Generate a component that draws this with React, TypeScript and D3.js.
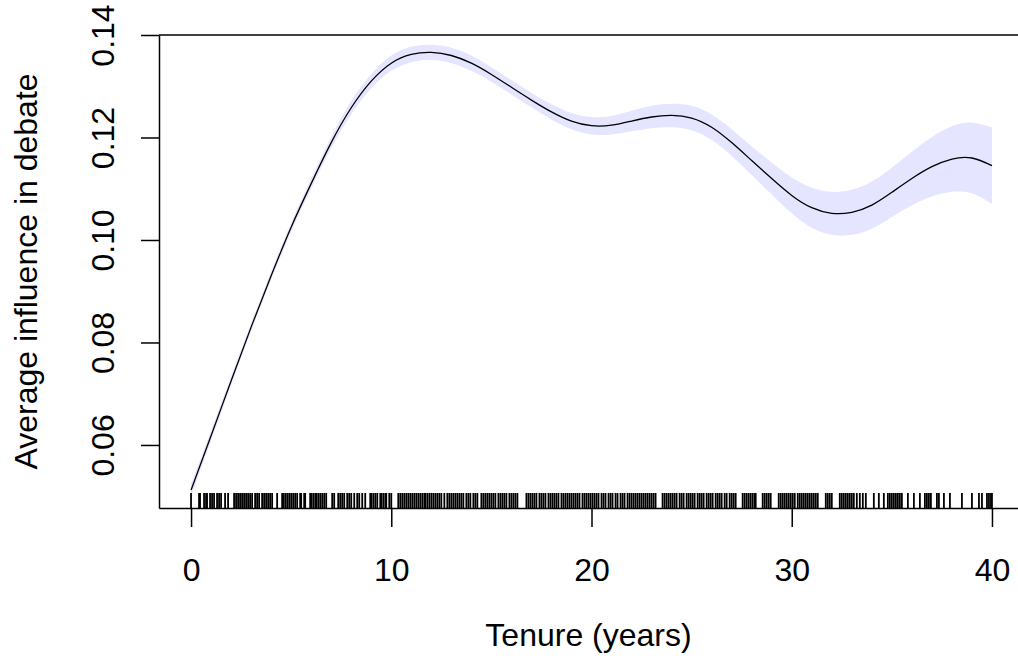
import React, { useEffect, useRef } from 'react'
import * as d3 from 'd3'

// smooth fit of average influence by tenure (one point per year)
const tenure = [0, 1, 2, 3, 4, 5, 6, 7, 8, 9, 10, 11, 12, 13, 14, 15, 16, 17, 18, 19, 20,
  21, 22, 23, 24, 25, 26, 27, 28, 29, 30, 31, 32, 33, 34, 35, 36, 37, 38, 39, 40];
const fit = [0.0512, 0.0618, 0.0725, 0.0830, 0.0930, 0.1025, 0.1110, 0.1190, 0.1258, 0.1310,
  0.1345, 0.1362, 0.1366, 0.1360, 0.1345, 0.1323, 0.1298, 0.1273, 0.1250, 0.1232,
  0.1223, 0.1224, 0.1232, 0.1240, 0.1243, 0.1238, 0.1220, 0.1190, 0.1155, 0.1120,
  0.1087, 0.1063, 0.1052, 0.1054, 0.1068, 0.1093, 0.1120, 0.1143, 0.1158, 0.1160, 0.1145];
// half width of the shaded band
const halfWidth = [0.0012, 0.0010, 0.0009, 0.0008, 0.0008, 0.0009, 0.0010, 0.0011, 0.0013, 0.0014,
  0.0015, 0.0015, 0.0015, 0.0015, 0.0015, 0.0014, 0.0014, 0.0014, 0.0015, 0.0016,
  0.0017, 0.0018, 0.0020, 0.0022, 0.0023, 0.0024, 0.0025, 0.0026, 0.0028, 0.0031,
  0.0035, 0.0039, 0.0042, 0.0044, 0.0046, 0.0048, 0.0052, 0.0058, 0.0064, 0.0069, 0.0075];

// observed tenures drawn as the rug
const rug = [
  0.0, 0.4, 0.45, 0.65, 0.75, 0.8, 0.95,
  1.05, 1.15, 1.3, 1.4, 1.5, 1.7, 1.85,
  2.15, 2.25, 2.35, 2.45, 2.55, 2.65, 2.75, 2.85, 2.95,
  3.05, 3.2, 3.3, 3.4, 3.55, 3.65, 3.75, 3.85, 3.95,
  4.05, 4.3, 4.55, 4.6, 4.7, 4.8, 4.9,
  5.0, 5.1, 5.2, 5.3, 5.45, 5.5, 5.65, 5.7, 5.95,
  6.0, 6.1, 6.2, 6.25, 6.35, 6.45, 6.55, 6.65, 6.75,
  7.05, 7.15, 7.35, 7.45, 7.55, 7.65, 7.8, 7.9,
  8.0, 8.15, 8.3, 8.4, 8.55, 8.7, 8.95,
  9.0, 9.1, 9.2, 9.3, 9.45, 9.5, 9.6, 9.7, 9.75, 9.9,
  10.0, 10.35, 10.45, 10.55, 10.65, 10.75, 10.85, 10.95,
  11.05, 11.15, 11.25, 11.35, 11.45, 11.55, 11.65, 11.7, 11.8, 11.9,
  12.0, 12.1, 12.2, 12.3, 12.4, 12.5, 12.65, 12.8, 12.9,
  13.0, 13.1, 13.2, 13.3, 13.4, 13.5, 13.6, 13.75, 13.85, 13.95,
  14.1, 14.2, 14.3, 14.5, 14.6, 14.7, 14.8, 14.9,
  15.0, 15.1, 15.2, 15.35, 15.45, 15.55, 15.65, 15.75, 15.9,
  16.0, 16.1, 16.2, 16.3, 16.75, 16.85, 16.95,
  17.05, 17.15, 17.25, 17.4, 17.5, 17.6, 17.7, 17.85, 17.95,
  18.05, 18.15, 18.25, 18.35, 18.5, 18.6, 18.7, 18.8, 18.9,
  19.0, 19.1, 19.2, 19.3, 19.4, 19.55, 19.65, 19.75, 19.85, 19.95,
  20.05, 20.15, 20.25, 20.35, 20.5, 20.6, 20.7, 20.85, 20.95,
  21.05, 21.2, 21.3, 21.45, 21.55, 21.65, 21.8, 21.9,
  22.0, 22.1, 22.2, 22.3, 22.4, 22.5, 22.6, 22.7, 22.8, 22.9,
  23.0, 23.1, 23.2, 23.55, 23.65, 23.75, 23.85, 23.95,
  24.05, 24.15, 24.25, 24.4, 24.5, 24.6, 24.75, 24.85, 24.95,
  25.05, 25.15, 25.3, 25.4, 25.5, 25.6, 25.75, 25.85, 25.95,
  26.05, 26.2, 26.3, 26.4, 26.5, 26.65, 26.75, 26.9,
  27.0, 27.1, 27.2, 27.55, 27.65, 27.75, 27.85, 27.95,
  28.05, 28.15, 28.2, 28.55, 28.65, 28.75, 28.85, 28.95,
  29.35, 29.45, 29.55, 29.65, 29.75, 29.85, 29.95,
  30.05, 30.15, 30.3, 30.4, 30.5, 30.6, 30.7, 30.8, 30.9,
  31.0, 31.1, 31.2, 31.3, 31.7, 31.8, 31.9,
  32.0, 32.4, 32.5, 32.6, 32.7, 32.8, 32.9,
  33.0, 33.1, 33.25, 33.4, 33.55, 33.7,
  34.1, 34.35, 34.6, 34.8, 34.9,
  35.0, 35.1, 35.2, 35.3, 35.4, 35.5, 35.8,
  36.1, 36.4, 36.65, 36.75, 36.85, 36.95,
  37.25, 37.35, 37.6, 37.9,
  38.5,
  39.0, 39.35, 39.5, 39.75, 39.85, 39.95,
  40.0
];

const xTicks = [0, 10, 20, 30, 40];
const yTicks = [0.06, 0.08, 0.10, 0.12, 0.14];

const W = 1018;
const H = 663;
const FONT = "'Liberation Sans', Arial, Helvetica, sans-serif";

export default function App() {
  const ref = useRef<SVGSVGElement | null>(null);

  useEffect(() => {
    document.body.style.margin = '0';
    const svg = d3.select(ref.current);
    svg.selectAll('*').remove();

    const x = d3.scaleLinear().domain([-1.6, 41.3]).range([159, 1018]);
    const y = d3.scaleLinear().domain([0.0477, 0.14]).range([508, 35]);

    const pts = tenure.map((t, i) => ({ t, f: fit[i], h: halfWidth[i] }));

    // confidence band
    const band = d3.area<any>()
      .x(d => x(d.t))
      .y0(d => y(d.f - d.h))
      .y1(d => y(d.f + d.h))
      .curve(d3.curveNatural);

    svg.append('path')
      .attr('d', band(pts))
      .attr('fill', '#e5e5ff')
      .attr('stroke', 'none');

    const line = d3.line<any>()
      .x(d => x(d.t))
      .y(d => y(d.f))
      .curve(d3.curveNatural);

    svg.append('path')
      .attr('d', line(pts))
      .attr('fill', 'none')
      .attr('stroke', '#000')
      .attr('stroke-width', 1.3);

    // rug
    svg.append('g')
      .selectAll('line')
      .data(rug)
      .enter()
      .append('line')
      .attr('x1', d => x(d))
      .attr('x2', d => x(d))
      .attr('y1', 493)
      .attr('y2', 508)
      .attr('stroke', '#000')
      .attr('stroke-width', 1.8);

    // top frame line
    svg.append('line')
      .attr('x1', 159).attr('x2', 1018)
      .attr('y1', 35).attr('y2', 35)
      .attr('stroke', '#000').attr('stroke-width', 1.5);

    const xAxis = d3.axisBottom(x).tickValues(xTicks).tickSize(19).tickSizeOuter(0)
      .tickFormat(d3.format('d') as any);
    const gx = svg.append('g').attr('transform', 'translate(0,508)').call(xAxis);

    const yAxis = d3.axisLeft(y).tickValues(yTicks).tickSize(18).tickSizeOuter(0)
      .tickFormat(d3.format('.2f') as any);
    const gy = svg.append('g').attr('transform', 'translate(159,0)').call(yAxis);

    [gx, gy].forEach(g => {
      g.select('.domain').attr('stroke', '#000').attr('stroke-width', 1.5);
      g.selectAll('.tick line').attr('stroke', '#000').attr('stroke-width', 1.5);
      g.selectAll('.tick text')
        .attr('fill', '#000')
        .style('font-family', FONT)
        .style('font-size', '32px');
    });

    gx.selectAll('.tick text').attr('dy', null).attr('y', 73);

    gy.selectAll('.tick text')
      .attr('x', null).attr('dy', null)
      .attr('text-anchor', 'middle')
      .attr('transform', 'translate(-45,0) rotate(-90)');

    svg.append('text')
      .attr('x', (159 + 1018) / 2)
      .attr('y', 646)
      .attr('text-anchor', 'middle')
      .style('font-family', FONT)
      .style('font-size', '32px')
      .text('Tenure (years)');

    svg.append('text')
      .attr('transform', `translate(37,${(35 + 508) / 2}) rotate(-90)`)
      .attr('text-anchor', 'middle')
      .style('font-family', FONT)
      .style('font-size', '32px')
      .text('Average influence in debate');
  }, []);

  return (
    <svg ref={ref} width={W} height={H}
      style={{ display: 'block', background: '#fff' }} />
  );
}
